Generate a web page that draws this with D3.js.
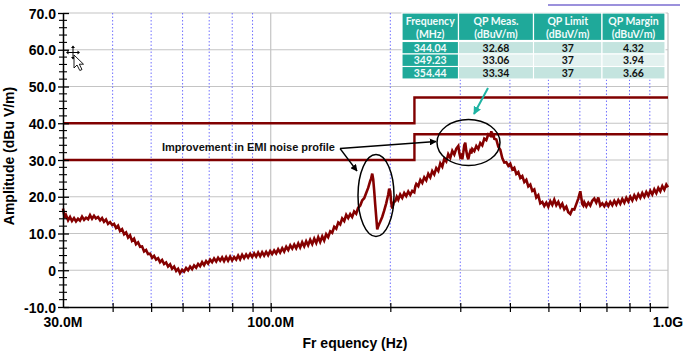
<!DOCTYPE html>
<html><head><meta charset="utf-8">
<script src="https://cdn.jsdelivr.net/npm/d3@7"></script>
<style>html,body{margin:0;padding:0;background:#fff;} svg{display:block;}</style>
</head><body>
<svg id="chart" width="688" height="355"></svg>
<script>
// ---------- data ----------
const yTicks = [-10, 0, 10, 20, 30, 40, 50, 60, 70];
const yTickLabels = ["-10.0", "0", "10.0", "20.0", "30.0", "40.0", "50.0", "60.0", "70.0"];
const xLabelTicks = [30, 100, 1000];          // MHz
const xTickLabels = ["30.0M", "100.0M", "1.0G"];
const xMinorTicks = [40, 50, 60, 70, 80, 90, 200, 300, 400, 500, 600, 700, 800, 900];
const limitFreq = [30, 230, 230, 1000];
const lowerLimit = [30, 30, 37, 37];
const upperLimit = [40, 40, 47, 47];

const traceFreq = [
30.0,30.3,30.53,30.9,31.25,31.6,31.98,32.35,32.73,33.1,
33.5,33.9,34.29,34.7,35.09,35.5,35.91,36.3,36.76,37.2,
37.62,38.05,38.5,38.95,39.41,39.9,40.33,40.8,41.28,41.75,
42.25,42.75,43.24,43.75,44.25,44.75,45.29,45.8,46.36,46.9,
47.44,48.0,48.56,49.1,49.7,50.3,50.86,51.45,52.06,52.65,
53.28,53.9,54.53,55.15,55.81,56.45,57.12,57.8,58.46,59.1,
59.83,60.5,61.23,61.95,62.67,63.4,64.14,64.9,65.65,66.4,
67.19,67.95,68.76,69.55,70.38,71.2,72.03,72.9,73.72,74.6,
75.45,76.3,77.22,78.1,79.03,79.95,80.89,81.85,82.79,83.75,
84.73,85.7,86.72,87.7,88.75,89.8,90.84,91.9,92.97,94.05,
95.15,96.25,97.38,98.5,99.67,100.8,102.0,103.2,104.4,105.6,
106.9,108.1,109.4,110.7,112.0,113.3,114.6,115.9,117.3,118.6,
120.0,121.4,122.8,124.2,125.7,127.2,128.7,130.2,131.7,133.2,
134.8,136.3,137.9,139.5,141.2,142.8,144.5,146.2,147.9,149.6,
151.3,153.1,154.9,156.7,158.5,160.3,162.2,164.1,166.0,168.0,
169.9,171.9,173.9,175.9,178.0,179.0,180.1,181.1,182.2,183.2,
184.3,185.4,186.5,187.5,188.6,190.8,193.0,195.3,197.6,198.7,
199.9,201.0,202.2,204.0,205.8,207.6,209.4,211.8,214.3,216.8,
219.3,221.9,224.5,227.1,229.8,231.2,232.5,235.2,238.0,240.7,
243.5,246.3,249.2,252.1,255.0,258.0,261.0,264.1,267.2,270.3,
273.4,276.6,279.8,283.1,286.4,289.8,293.2,296.6,298.3,300.0,
301.7,303.5,305.3,307.0,308.8,310.6,312.5,314.3,316.1,317.9,
319.8,321.6,325.4,329.2,333.0,336.9,340.8,344.8,348.8,352.9,
357.0,359.1,361.2,363.3,365.4,369.7,374.0,378.3,382.7,387.2,
391.7,396.3,400.9,405.6,410.3,415.1,419.9,424.8,429.8,434.8,
439.9,445.0,450.2,455.4,460.7,466.1,471.5,477.0,482.6,488.2,
493.9,499.7,505.5,511.4,517.3,523.4,529.5,535.7,541.9,548.2,
554.6,561.1,567.6,574.2,580.9,587.7,594.5,601.5,608.5,612.1,
615.6,622.8,630.0,637.4,644.8,652.3,659.9,667.6,675.4,683.3,
691.3,699.3,707.5,715.7,724.1,732.5,741.1,749.7,758.4,767.3,
776.3,785.3,794.5,803.7,813.1,822.6,832.2,841.9,851.7,861.6,
871.7,881.8,892.1,902.5,913.0,923.7,934.5,945.4,956.4,967.6,
978.9,990.3,1000
];
const traceAmp = [
16.8,14.2,15.0,13.6,14.5,13.4,14.2,13.3,14.0,13.5,
14.6,13.7,14.3,13.9,15.0,14.0,14.8,14.1,14.5,13.6,
14.2,13.2,13.8,12.6,13.1,12.3,12.6,11.5,12.1,10.7,
11.2,9.8,10.3,8.9,9.5,8.0,8.6,7.1,7.6,6.4,
6.5,5.1,5.5,4.4,4.5,3.4,3.9,2.9,3.3,2.2,
2.8,1.7,2.1,1.0,1.6,0.4,1.0,-0.2,0.4,-0.8,
0.1,-0.4,0.6,0.0,1.0,0.3,1.3,0.7,1.7,1.1,
2.2,1.4,2.5,1.8,2.9,2.2,3.2,2.4,3.4,2.6,
3.5,2.5,3.6,2.6,3.7,2.7,3.6,2.9,4.0,3.0,
4.2,3.3,4.3,3.5,4.5,3.6,4.6,3.7,4.8,3.8,
4.9,4.0,5.0,4.1,5.2,4.4,5.4,4.6,5.7,4.8,
6.0,5.1,6.4,5.5,6.8,5.9,7.0,6.0,7.3,6.2,
7.6,6.5,7.9,6.8,8.3,7.1,8.6,7.4,9.0,7.7,
9.2,8.1,9.8,9.0,10.6,10.2,11.8,11.3,13.0,12.5,
14.1,13.4,15.1,14.2,15.3,14.5,16.0,15.4,17.0,17.6,
19.0,19.6,21.0,22.4,24.3,25.0,26.3,24.8,21.5,18.0,
14.5,11.1,12.0,12.6,13.2,14.5,16.2,18.2,20.6,22.2,
21.5,18.5,16.8,18.5,18.8,20.0,19.2,20.6,19.7,21.0,
20.2,21.4,20.5,21.6,21.2,22.8,23.5,22.9,24.6,23.8,
25.3,24.5,26.2,25.3,27.0,26.1,27.8,27.0,29.1,28.2,
30.3,29.6,31.6,30.6,32.5,31.5,33.1,33.8,32.0,30.8,
31.2,30.2,32.0,34.0,34.7,32.5,31.0,30.2,31.5,32.4,
31.8,33.0,32.4,33.8,33.0,34.6,34.0,35.8,35.4,37.0,
36.6,37.8,36.8,37.3,35.8,35.6,33.6,32.8,30.5,29.3,
29.4,28.4,29.0,27.4,27.9,26.2,26.7,25.1,25.6,24.0,
24.6,22.8,23.3,21.6,22.0,19.8,20.4,18.2,18.6,17.5,
18.4,17.3,18.8,17.8,19.2,17.7,18.6,17.2,18.1,16.6,
17.3,15.8,15.3,16.6,16.5,18.0,19.5,21.5,18.0,17.6,
18.5,17.4,18.4,17.6,18.9,19.5,18.4,19.8,17.6,18.2,
17.4,18.4,17.5,18.6,17.7,18.9,17.9,19.1,18.1,19.4,
18.4,19.7,18.7,20.0,19.0,20.4,19.4,20.7,19.7,21.0,
20.0,21.3,20.3,21.6,20.6,22.0,21.0,22.4,21.5,22.9,
21.9,23.3,22.6
];

const tableHeader1 = ["Frequency", "QP Meas.", "QP Limit", "QP Margin"];
const tableHeader2 = ["(MHz)", "(dBuV/m)", "(dBuV/m)", "(dBuV/m)"];
const tableFreq = ["344.04", "349.23", "354.44"];
const tableMeas = ["32.68", "33.06", "33.34"];
const tableLimit = ["37", "37", "37"];
const tableMargin = ["4.32", "3.94", "3.66"];
const annotationText = "Improvement in EMI noise profile";
const xTitle = "Fr equency (Hz)";
const yTitle = "Amplitude (dBu V/m)";

// ---------- drawing ----------
const svg = d3.select("#chart");
const FONT = "'Liberation Sans', Arial, sans-serif";
const x = d3.scaleLog().domain([30, 1000]).range([63, 668]);
const y = d3.scaleLinear().domain([-10, 70]).range([307, 13]);
const x0 = x.range()[0], x1 = x.range()[1], yTop = y.range()[1], yBot = y.range()[0];

svg.append("rect").attr("width", 688).attr("height", 355).attr("fill", "#fff");

// horizontal grid
svg.append("g").selectAll("line").data(yTicks.filter(d => d > -10)).join("line")
  .attr("x1", x0).attr("x2", x1).attr("y1", d => y(d)).attr("y2", d => y(d))
  .attr("stroke", "#c4c4c4").attr("stroke-width", 1.2);
// vertical dotted grid
svg.append("g").selectAll("line").data(xMinorTicks).join("line")
  .attr("x1", d => x(d)).attr("x2", d => x(d)).attr("y1", yTop).attr("y2", yBot)
  .attr("stroke", "#7070ff").attr("stroke-width", 1).attr("stroke-dasharray", "1.5,2");
// 100M solid grid + right border
svg.append("line").attr("x1", x(100)).attr("x2", x(100)).attr("y1", yTop).attr("y2", yBot)
  .attr("stroke", "#c4c4c4").attr("stroke-width", 1.2);
svg.append("line").attr("x1", x1).attr("x2", x1).attr("y1", yTop).attr("y2", yBot)
  .attr("stroke", "#c4c4c4").attr("stroke-width", 1.2);

// limit lines
const limitLine = d3.line().x(d => x(d[0])).y(d => y(d[1]));
[lowerLimit, upperLimit].forEach(lim => {
  svg.append("path").datum(limitFreq.map((f, i) => [f, lim[i]]))
    .attr("d", limitLine).attr("fill", "none").attr("stroke", "#800000").attr("stroke-width", 2.4);
});

// trace
const traceLine = d3.line().x(d => x(d[0])).y(d => y(d[1]));
svg.append("path").datum(traceFreq.map((f, i) => [f, traceAmp[i]]))
  .attr("d", traceLine).attr("fill", "none").attr("stroke", "#850000")
  .attr("stroke-width", 2.6).attr("stroke-linejoin", "miter").attr("stroke-miterlimit", 3);

// y axis
const yAxis = d3.axisLeft(y).tickValues(yTicks).tickFormat((d, i) => yTickLabels[i])
  .tickSizeInner(5).tickSizeOuter(0).tickPadding(2);
const gy = svg.append("g").attr("transform", `translate(${x0},0)`).call(yAxis);
gy.select(".domain").attr("stroke", "#000").attr("stroke-width", 1.5);
gy.selectAll(".tick line").attr("x1", 6).attr("stroke", "#000").attr("stroke-width", 1.3);
gy.selectAll(".tick text").attr("font-family", FONT).attr("font-weight", "bold")
  .attr("font-size", 14).attr("fill", "#000").attr("dy", "0.36em");
svg.append("g").selectAll("line").data(d3.range(-10, 71, 2).filter(d => d % 10 !== 0)).join("line")
  .attr("x1", x0 - 4).attr("x2", x0 + 4).attr("y1", d => y(d)).attr("y2", d => y(d))
  .attr("stroke", "#000").attr("stroke-width", 1.1);

// x axis
const xAxis = d3.axisBottom(x).tickValues(xMinorTicks.concat([100])).tickFormat("")
  .tickSizeInner(5).tickSizeOuter(0);
const gx = svg.append("g").attr("transform", `translate(0,${yBot})`).call(xAxis);
gx.select(".domain").attr("stroke", "#000").attr("stroke-width", 1.5);
gx.selectAll(".tick line").attr("y1", -4).attr("stroke", "#000").attr("stroke-width", 1.2);
svg.append("g").selectAll("text").data(xLabelTicks).join("text")
  .attr("x", d => x(d)).attr("y", 327).attr("text-anchor", "middle")
  .attr("font-family", FONT).attr("font-weight", "bold").attr("font-size", 14)
  .text((d, i) => xTickLabels[i]);

// titles
svg.append("text").attr("x", 355).attr("y", 348).attr("text-anchor", "middle")
  .attr("font-family", FONT).attr("font-weight", "bold").attr("font-size", 14).text(xTitle);
svg.append("text").attr("transform", "translate(14,156) rotate(-90)").attr("text-anchor", "middle")
  .attr("font-family", FONT).attr("font-weight", "bold").attr("font-size", 14).text(yTitle);

// purple line at top right
svg.append("line").attr("x1", 548).attr("x2", 680).attr("y1", 5).attr("y2", 5)
  .attr("stroke", "#7a6cd0").attr("stroke-width", 1.6);

// table
const TF = "Lato, 'Open Sans', sans-serif";
const colX = [402, 458.5, 533.5, 602, 665];
const teal = "#1fa99a";
const tbl = svg.append("g");
for (let c = 0; c < 4; c++) {
  tbl.append("rect").attr("x", colX[c]).attr("y", 13).attr("width", colX[c + 1] - colX[c]).attr("height", 27.5)
    .attr("fill", teal).attr("stroke", "#fff").attr("stroke-width", 1.2);
  const cx = (colX[c] + colX[c + 1]) / 2;
  tbl.append("text").attr("x", cx).attr("y", 24.5).attr("text-anchor", "middle").attr("font-family", TF)
    .attr("font-weight", "bold").attr("font-size", 10.5).attr("fill", "#f2fbfa").text(tableHeader1[c]);
  tbl.append("text").attr("x", cx).attr("y", 37.5).attr("text-anchor", "middle").attr("font-family", TF)
    .attr("font-weight", "bold").attr("font-size", 10.5).attr("fill", "#f2fbfa").text(tableHeader2[c]);
}
const rowTop = [41.5, 54, 66.5];
const rowFill = ["#c4e4df", "#e2f1ef", "#c4e4df"];
const cols = [tableFreq, tableMeas, tableLimit, tableMargin];
for (let r = 0; r < 3; r++) {
  for (let c = 0; c < 4; c++) {
    tbl.append("rect").attr("x", colX[c]).attr("y", rowTop[r]).attr("width", colX[c + 1] - colX[c]).attr("height", 12.5)
      .attr("fill", c === 0 ? teal : rowFill[r]).attr("stroke", "#fff").attr("stroke-width", 1.1);
    tbl.append("text").attr("x", (colX[c] + colX[c + 1]) / 2).attr("y", rowTop[r] + 10)
      .attr("text-anchor", "middle").attr("font-family", TF).attr("font-weight", "bold").attr("font-size", 10.5)
      .attr("fill", c === 0 ? "#f2fbfa" : "#111").text(cols[c][r]);
  }
}

// annotations
const defs = svg.append("defs");
defs.append("marker").attr("id", "ahb").attr("viewBox", "0 0 10 10").attr("refX", 9).attr("refY", 5)
  .attr("markerWidth", 7).attr("markerHeight", 7).attr("markerUnits", "userSpaceOnUse").attr("orient", "auto")
  .append("path").attr("d", "M0,0 L10,5 L0,10 Z").attr("fill", "#000");
defs.append("marker").attr("id", "aht").attr("viewBox", "0 0 10 10").attr("refX", 9).attr("refY", 5)
  .attr("markerWidth", 8).attr("markerHeight", 8).attr("markerUnits", "userSpaceOnUse").attr("orient", "auto")
  .append("path").attr("d", "M0,0 L10,5 L0,10 Z").attr("fill", "#1fb3a3");

svg.append("text").attr("x", 162).attr("y", 151).attr("font-family", FONT).attr("font-weight", "bold")
  .attr("font-size", 11).attr("fill", "#111").text(annotationText);
svg.append("line").attr("x1", 340).attr("y1", 148.5).attr("x2", 357).attr("y2", 171)
  .attr("stroke", "#000").attr("stroke-width", 1.3).attr("marker-end", "url(#ahb)");
svg.append("line").attr("x1", 340).attr("y1", 148.5).attr("x2", 436).attr("y2", 141.5)
  .attr("stroke", "#000").attr("stroke-width", 1.3).attr("marker-end", "url(#ahb)");
svg.append("ellipse").attr("cx", 376).attr("cy", 195.5).attr("rx", 18).attr("ry", 41)
  .attr("fill", "none").attr("stroke", "#000").attr("stroke-width", 1.5);
svg.append("ellipse").attr("cx", 468.5).attr("cy", 142.5).attr("rx", 31.5).attr("ry", 23)
  .attr("fill", "none").attr("stroke", "#000").attr("stroke-width", 1.5);
svg.append("line").attr("x1", 488).attr("y1", 88).attr("x2", 474).attr("y2", 114)
  .attr("stroke", "#1fb3a3").attr("stroke-width", 2).attr("marker-end", "url(#aht)");

// mouse cursor artifact
const cur = svg.append("g").attr("transform", "translate(73,52.5)").attr("stroke", "#000").attr("fill", "#000");
cur.append("line").attr("x1", -6).attr("x2", 6).attr("y1", 0).attr("y2", 0).attr("stroke-width", 1);
cur.append("line").attr("x1", 0).attr("x2", 0).attr("y1", -6).attr("y2", 6).attr("stroke-width", 1);
cur.append("path").attr("d", "M-7,0 L-4.5,-2 L-4.5,2 Z M7,0 L4.5,-2 L4.5,2 Z M0,-7 L-2,-4.5 L2,-4.5 Z M0,7 L-2,4.5 L2,4.5 Z").attr("stroke", "none");
svg.append("path").attr("transform", "translate(74,55)")
  .attr("d", "M0,0 L0,13 L3,10 L5.8,15.5 L8,14.5 L5.3,9.2 L9.5,9.2 Z")
  .attr("fill", "#fff").attr("stroke", "#000").attr("stroke-width", 0.9);
</script>
</body></html>
